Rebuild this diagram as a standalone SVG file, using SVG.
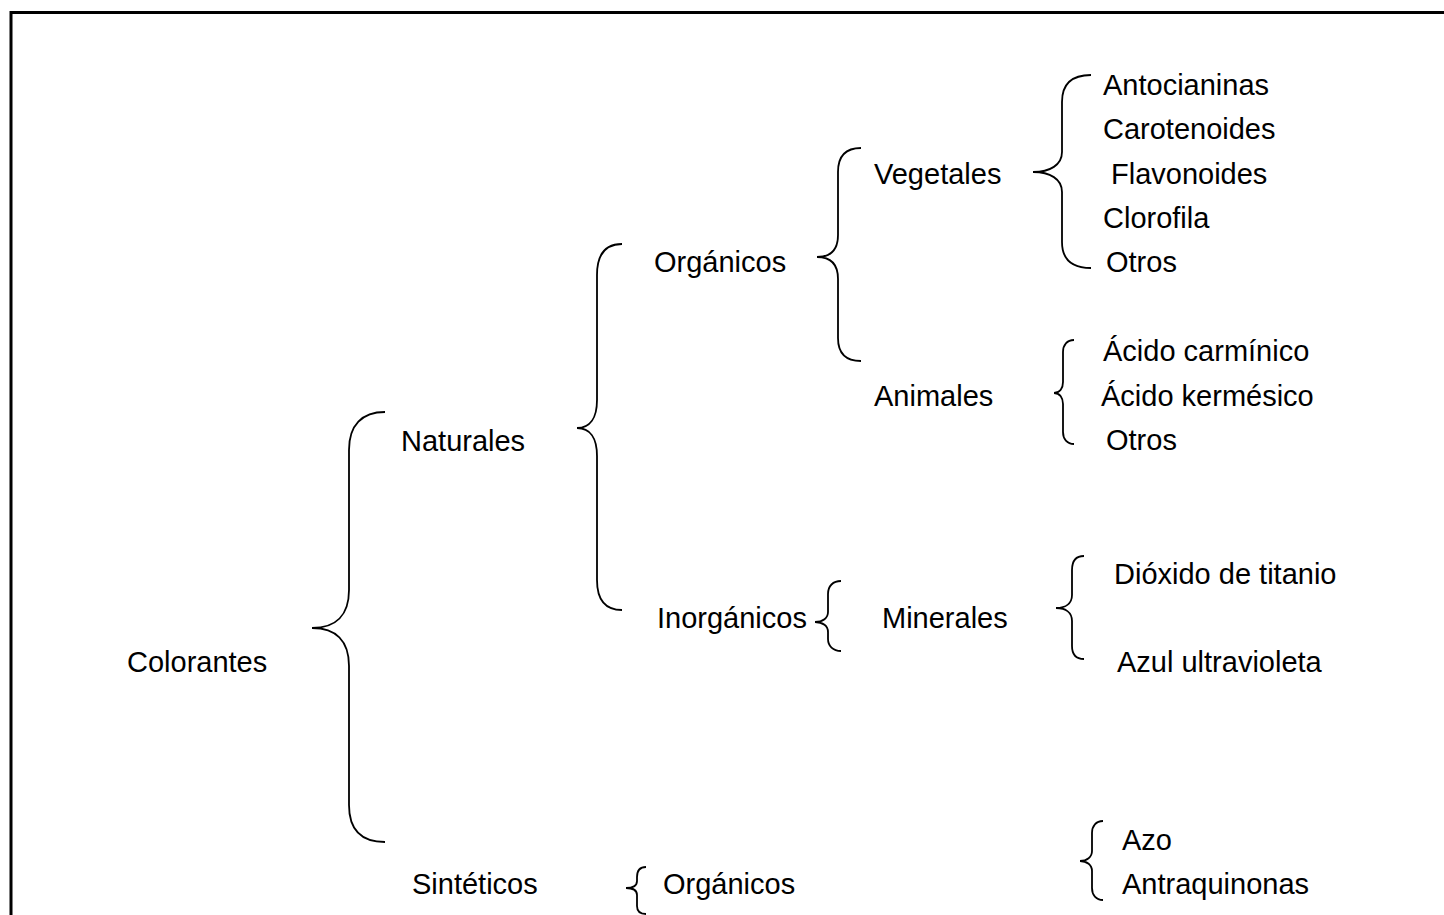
<svg xmlns="http://www.w3.org/2000/svg" width="1444" height="915" viewBox="0 0 1444 915">
<style>
text{font-family:"Liberation Sans",Arial,sans-serif;font-size:29px;fill:#000}
.br{fill:none;stroke:#000;stroke-width:1.8}
</style>
<rect width="1444" height="915" fill="#fff"/>
<path d="M11,916 L11,12.5 L1445,12.5" fill="none" stroke="#000" stroke-width="3"/>
<g id="connectors">
<path class="br" d="M385,412 C362,412 349,425 349,450 L349,590 C349,615 336,628 312,628 C336,628 349,641 349,666 L349,805 C349,830 362,842 385,842"/>
<path class="br" d="M622,244 C605,244 597,255 597,275 L597,400 C597,418 590,428 577,428 C590,428 597,438 597,456 L597,580 C597,600 605,610 622,610"/>
<path class="br" d="M861,148 C846,148 838,156 838,172 L838,235 C838,250 830,257 817,257 C830,257 838,264 838,279 L838,338 C838,353 846,361 861,361"/>
<path class="br" d="M1091,75 C1072,75 1062,84 1062,102 L1062,152 C1062,165 1050,172 1033,172 C1050,172 1062,179 1062,192 L1062,242 C1062,259 1072,268 1091,268"/>
<path class="br" d="M1074,340 C1067,340 1063,345 1063,352 L1063,382 C1063,388 1060,393 1054,393 C1060,393 1063,398 1063,404 L1063,432 C1063,439 1067,444 1074,444"/>
<path class="br" d="M841,581 C833,581 828,586 828,594 L828,612 C828,618 823,622 815,622 C823,622 828,626 828,632 L828,639 C828,646 833,651 841,651"/>
<path class="br" d="M1084,556 C1076,556 1072,561 1072,570 L1072,595 C1072,604 1065,608 1056,608 C1065,608 1072,612 1072,621 L1072,646 C1072,654 1076,659 1084,659"/>
<path class="br" d="M646,867 C640,867 637,871 637,877 L637,881 C637,886 633,888 626,888 C633,888 637,890 637,895 L637,906 C637,911 640,914 646,914"/>
<path class="br" d="M1103,821 C1096,821 1092,826 1092,833 L1092,851 C1092,857 1087,861 1080,861 C1087,861 1092,865 1092,871 L1092,888 C1092,895 1096,900 1103,900"/>
</g>
<g id="n-colorantes"><text x="127" y="672">Colorantes</text></g>
<g id="n-naturales"><text x="401" y="451">Naturales</text></g>
<g id="n-sinteticos"><text x="412" y="894">Sintéticos</text></g>
<g id="n-organicos"><text x="654" y="272">Orgánicos</text></g>
<g id="n-inorganicos"><text x="657" y="628">Inorgánicos</text></g>
<g id="n-organicos2"><text x="663" y="894">Orgánicos</text></g>
<g id="n-vegetales"><text x="874" y="184">Vegetales</text></g>
<g id="n-animales"><text x="874" y="406">Animales</text></g>
<g id="n-minerales"><text x="882" y="628">Minerales</text></g>
<g id="n-antocianinas"><text x="1103" y="95">Antocianinas</text></g>
<g id="n-carotenoides"><text x="1103" y="139">Carotenoides</text></g>
<g id="n-flavonoides"><text x="1111" y="184">Flavonoides</text></g>
<g id="n-clorofila"><text x="1103" y="228">Clorofila</text></g>
<g id="n-otros1"><text x="1106" y="272">Otros</text></g>
<g id="n-carminico"><text x="1103" y="361">Ácido carmínico</text></g>
<g id="n-kermesico"><text x="1101" y="406">Ácido kermésico</text></g>
<g id="n-otros2"><text x="1106" y="450">Otros</text></g>
<g id="n-dioxido"><text x="1114" y="584">Dióxido de titanio</text></g>
<g id="n-azul"><text x="1117" y="672">Azul ultravioleta</text></g>
<g id="n-azo"><text x="1122" y="850">Azo</text></g>
<g id="n-antraquinonas"><text x="1122" y="894">Antraquinonas</text></g>
</svg>
